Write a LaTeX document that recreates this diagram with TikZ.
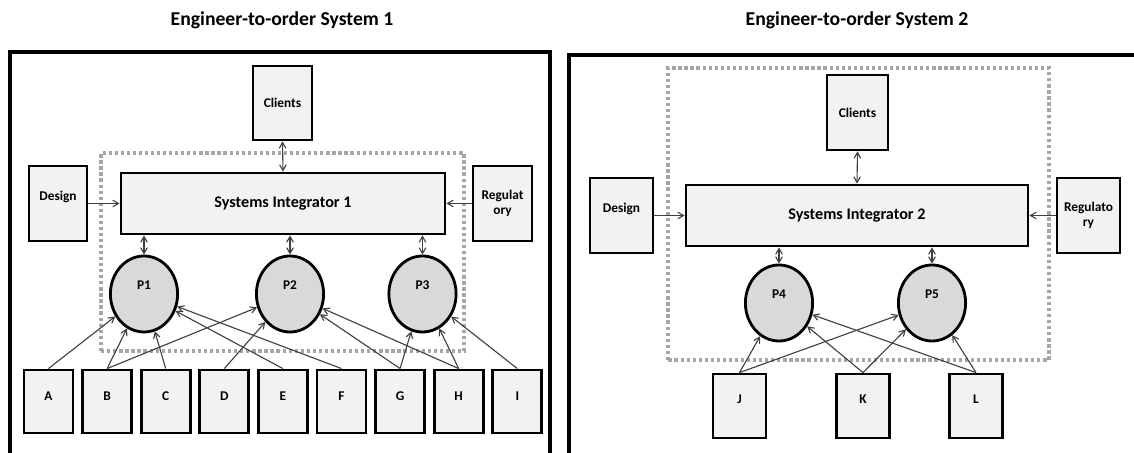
\documentclass[tikz,border=0pt]{standalone}
\usepackage{fontspec}
\setmainfont{Carlito}
\usetikzlibrary{arrows, shapes.geometric}
\definecolor{boxfill}{HTML}{F2F2F2}
\definecolor{partfill}{HTML}{D9D9D9}
\definecolor{linkgray}{HTML}{404040}
\definecolor{dotgray}{HTML}{A6A6A6}
\tikzset{
  actor/.style={draw, line width=2pt, fill=boxfill, align=center, inner sep=0pt,
    font=\bfseries\fontsize{9.5}{11}\selectfont},
  part/.style={ellipse, draw, line width=2pt, fill=partfill, inner sep=0pt,
    minimum width=1.68cm, minimum height=1.9cm, text depth=12pt,
    font=\bfseries\fontsize{9.5}{11}\selectfont},
  link/.style={linkgray, line width=0.8pt, ->, >=angle 60},
  twoway/.style={linkgray, line width=0.8pt, <->, >=angle 60},
  system/.style={dotgray, line width=2.3pt, dash pattern=on 2.3pt off 2pt},
  heading/.style={font=\bfseries\fontsize{14}{16}\selectfont},
}

\begin{document}
\begin{tikzpicture}[x=0.025cm, y=0.025cm]
      \useasboundingbox (0,0) rectangle (1134,453);

      % Left system: frame, title and dotted boundary
      \draw[line width=2.2pt] (10,-5) |- (550,401) -- (550,-5);
      \node[heading] (title1) at (282,433) {Engineer-to-order System 1};
      \draw[system] (101,102) rectangle (464,300);

      % Actors round the integrator
      \node[actor, minimum width=1.475cm, minimum height=1.85cm] (clients1) at (282.5,350) {Clients};
      \node[actor, minimum width=8.1cm, minimum height=1.525cm,
        font=\bfseries\fontsize{11.5}{13}\selectfont] (si1) at (283,249.5) {Systems Integrator 1};
      \node[actor, minimum width=1.45cm, minimum height=1.875cm, text depth=11pt] (design1) at (58,249.5) {Design};
      \node[actor, minimum width=1.475cm, minimum height=1.875cm] (reg1) at (502.5,249.5) {Regulat\\ory};

      % Partners
      \node[part] (P1) at (144,159) {P1};
      \node[part] (P2) at (290,159) {P2};
      \node[part] (P3) at (422.5,159) {P3};

      % Suppliers
      \foreach \name [count=\i from 0] in {A,B,C,D,E,F,G,H,I}
        \node[actor, minimum width=1.225cm, minimum height=1.575cm, text depth=7pt]
          (\name) at ({48.5+58.6*\i},51.5) {\name};

      % Links
      \draw[twoway] (clients1.south) -- (si1.north);
      \draw[link] (design1.east) -- (si1.west);
      \draw[link] (reg1.west) -- (si1.east);
      \foreach \p in {P1,P2,P3}
        \draw[twoway] (si1.south -| \p) -- (\p.north);
      \foreach \src/\dst in {A/P1, B/P1, B/P2, C/P1, D/P2, E/P1, F/P1, G/P2, G/P3, H/P2, H/P3, I/P3}
        \draw[link] (\src.north) -- (\dst);

      % Right system: frame, title and dotted boundary
      \draw[line width=2.2pt] (569,-5) |- (1140,398);
      \node[heading] (title2) at (857,433) {Engineer-to-order System 2};
      \draw[system] (668,93) rectangle (1049,385);

      % Actors round the integrator
      \node[actor, minimum width=1.525cm, minimum height=1.875cm] (clients2) at (857.5,340.5) {Clients};
      \node[actor, minimum width=8.55cm, minimum height=1.525cm,
        font=\bfseries\fontsize{11.5}{13}\selectfont] (si2) at (857,237.5) {Systems Integrator 2};
      \node[actor, minimum width=1.575cm, minimum height=1.875cm, text depth=11pt] (design2) at (621.5,237.5) {Design};
      \node[actor, minimum width=1.575cm, minimum height=1.875cm] (reg2) at (1088.5,237.5) {Regulato\\ry};

      % Partners
      \node[part] (P4) at (779,150) {P4};
      \node[part] (P5) at (932,150) {P5};

      % Suppliers
      \foreach \name/\px in {J/739.5, K/863, L/976}
        \node[actor, minimum width=1.325cm, minimum height=1.6cm, text depth=9pt]
          (\name) at (\px,47) {\name};

      % Links
      \draw[twoway] (clients2.south) -- (si2.north);
      \draw[link] (design2.east) -- (si2.west);
      \draw[link] (reg2.west) -- (si2.east);
      \foreach \p in {P4,P5}
        \draw[twoway] (si2.south -| \p) -- (\p.north);
      \foreach \src/\dst in {J/P4, J/P5, K/P4, K/P5, L/P4, L/P5}
        \draw[link] (\src.north) -- (\dst);
\end{tikzpicture}
\end{document}
